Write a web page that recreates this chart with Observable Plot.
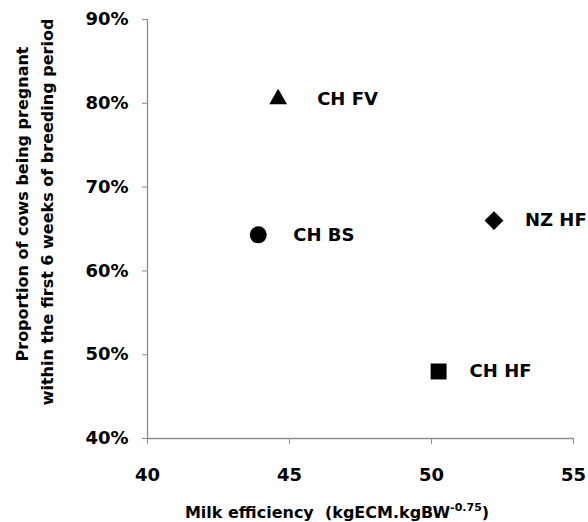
<!DOCTYPE html>
<html>
<head>
<meta charset="utf-8">
<script src="https://cdn.jsdelivr.net/npm/d3@7"></script>
<script src="https://cdn.jsdelivr.net/npm/@observablehq/plot@0.6"></script>
<style>
  html, body { margin: 0; padding: 0; background: white; }
  g[aria-label="y-axis tick"], g[aria-label="x-axis tick"] { stroke: #8c8c8c; }
</style>
</head>
<body>
<div id="chart"></div>
<script>
const breeds = ["CH FV", "CH BS", "NZ HF", "CH HF"];
const efficiency = [44.6, 43.9, 52.2, 50.25];
const pregnant = [80.5, 64.3, 66.0, 48.0];
const shapes = ["triangle", "circle", "diamond2", "square"];
const xTicks = [40, 45, 50, 55];
const yTicks = [40, 50, 60, 70, 80, 90];
const xTitle = "Milk efficiency  (kgECM.kgBW";
const xTitleSup = "-0.75";
const yTitle1 = "Proportion of cows being pregnant";
const yTitle2 = "within the first 6 weeks of breeding period";

const rows = breeds.map((b, i) => ({breed: b, x: efficiency[i], y: pregnant[i], shape: shapes[i]}));

const radius = {triangle: 6.6, circle: 8.5, diamond2: 8.5, square: 9};
const labelDx = {triangle: 39, circle: 35, diamond2: 31, square: 31};

const font = "DejaVu Sans";
const chart = Plot.plot({
  width: 588,
  height: 522,
  marginLeft: 147,
  marginRight: 15,
  marginTop: 19,
  marginBottom: 84,
  style: {fontFamily: font, fontWeight: "bold", fontSize: "18px", background: "white", overflow: "visible", color: "black"},
  x: {domain: [40, 55], label: null},
  y: {domain: [40, 90], label: null},
  symbol: {type: "identity"},
  marks: [
    Plot.axisY({ticks: yTicks, tickSize: 5, tickPadding: 14, tickFormat: d => d + "%", label: null}),
    Plot.axisX({ticks: xTicks, tickSize: 6, tickPadding: 24, label: null}),
    Plot.ruleX([40], {stroke: "#8c8c8c", strokeWidth: 1.3}),
    Plot.ruleY([40], {stroke: "#8c8c8c", strokeWidth: 1.3}),
    ...rows.map(d => Plot.dot([d], {x: "x", y: "y", symbol: "shape", r: radius[d.shape], fill: "black", stroke: null})),
    ...rows.map(d => Plot.text([d], {x: "x", y: "y", text: "breed", dx: labelDx[d.shape], textAnchor: "start", fontSize: 18, fontWeight: "bold", fill: "black"}))
  ]
});

const svg = d3.select(chart);
const t = svg.append("text")
  .attr("x", 337).attr("y", 518)
  .attr("text-anchor", "middle")
  .style("font-family", font).style("font-weight", "bold").style("font-size", "16px");
t.append("tspan").text(xTitle);
t.append("tspan").attr("dy", -7).style("font-size", "11px").text(xTitleSup);
t.append("tspan").attr("dy", 7).text(")");

[[yTitle1, 28, 204], [yTitle2, 53, 212]].forEach(([s, x, y]) => {
  svg.append("text")
    .attr("transform", `translate(${x},${y}) rotate(-90)`)
    .attr("text-anchor", "middle")
    .style("font-family", font).style("font-weight", "bold").style("font-size", "16px")
    .text(s);
});

document.getElementById("chart").appendChild(chart);
</script>
</body>
</html>
